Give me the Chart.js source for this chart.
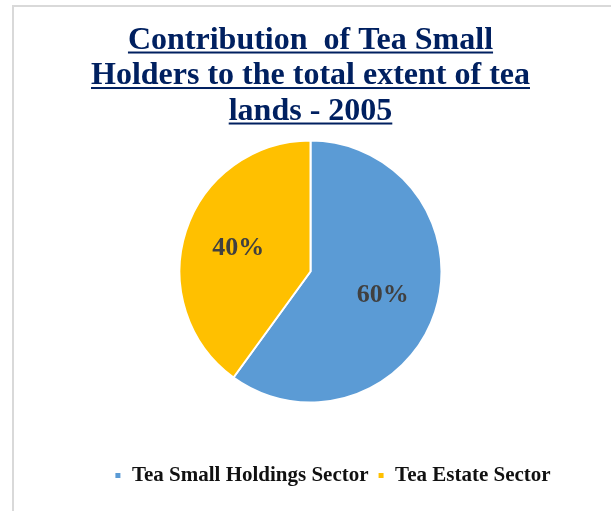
<!DOCTYPE html>
<html>
<head>
<meta charset="utf-8">
<title>Contribution of Tea Small Holders</title>
<script src="https://cdn.jsdelivr.net/npm/chart.js@4.4.1/dist/chart.umd.min.js"></script>
<style>
  html, body { margin: 0; padding: 0; background: #ffffff; }
  #teaChart { display: block; }
</style>
</head>
<body>
<canvas id="teaChart" width="611" height="511"></canvas>
<script>
// chart data
const titleLines = ['Contribution  of Tea Small', 'Holders to the total extent of tea', 'lands - 2005'];
const categories = ['Tea Small Holdings Sector', 'Tea Estate Sector'];
const shares = [60, 40];
const sliceColors = ['#5B9BD5', '#FFC000'];

const serif = "'Liberation Serif', 'Times New Roman', serif";
const titleFont = { family: serif, size: 32, weight: 'bold', lineHeight: 35.5 / 32 };
const titleColor = '#002060';

// white page + grey frame (top and left edges only)
const framePlugin = {
    id: 'frame',
    beforeDraw(chart) {
        const ctx = chart.ctx;
        ctx.save();
        ctx.fillStyle = '#ffffff';
        ctx.fillRect(0, 0, chart.width, chart.height);
        ctx.fillStyle = '#d9d9d9';
        ctx.fillRect(12, 5, chart.width - 12, 2);
        ctx.fillRect(12, 5, 2, chart.height - 5);
        ctx.restore();
    }
};

// the title plugin can't underline, so draw the lines under each row here
const underlinePlugin = {
    id: 'titleUnderline',
    afterDraw(chart) {
        const block = chart.titleBlock;
        if (!block) return;
        const ctx = chart.ctx;
        const font = Chart.helpers.toFont(titleFont);
        const padTop = block._padding.top;
        const cx = (block.left + block.right) / 2;
        ctx.save();
        ctx.font = font.string;
        ctx.textBaseline = 'middle';
        const toBase = ctx.measureText('H').actualBoundingBoxDescent;
        ctx.fillStyle = titleColor;
        titleLines.forEach((line, i) => {
            const mid = block.top + padTop + font.lineHeight / 2 + i * font.lineHeight;
            const w = ctx.measureText(line).width;
            ctx.fillRect(cx - w / 2, mid + toBase + 3, w, 2);
        });
        ctx.restore();
    }
};

// percentage labels inside each slice
const sliceLabelPlugin = {
    id: 'sliceLabels',
    afterDatasetsDraw(chart) {
        const ctx = chart.ctx;
        const meta = chart.getDatasetMeta(0);
        ctx.save();
        ctx.font = "bold 26px " + serif;
        ctx.fillStyle = '#404040';
        ctx.textAlign = 'center';
        ctx.textBaseline = 'middle';
        meta.data.forEach((arc, i) => {
            const p = arc.getProps(['x', 'y', 'startAngle', 'endAngle', 'outerRadius'], true);
            const mid = (p.startAngle + p.endAngle) / 2;
            const r = p.outerRadius * 0.58;
            ctx.fillText(shares[i] + '%', p.x + Math.cos(mid) * r, p.y + Math.sin(mid) * r);
        });
        ctx.restore();
    }
};

// nudge the legend a bit to the right like the original
const legendShiftPlugin = {
    id: 'legendShift',
    afterLayout(chart) {
        if (chart.legend) chart.legend.left += 44;
    }
};

const ctx = document.getElementById('teaChart').getContext('2d');
const teaChart = new Chart(ctx, {
    type: 'pie',
    data: {
        labels: categories,
        datasets: [{
            data: shares,
            backgroundColor: sliceColors,
            borderColor: '#ffffff',
            borderWidth: 2
        }]
    },
    options: {
        responsive: false,
        animation: false,
        radius: 131,
        layout: {
            padding: { left: 10, right: 0, top: 0, bottom: 15 }
        },
        plugins: {
            title: {
                display: true,
                text: titleLines,
                color: titleColor,
                font: titleFont,
                padding: { top: 22.5, bottom: -42 }
            },
            legend: {
                position: 'bottom',
                labels: {
                    boxWidth: 7,
                    boxHeight: 7,
                    padding: 9,
                    color: '#111111',
                    font: { family: serif, size: 21, weight: 'bold' }
                }
            },
            tooltip: { enabled: false }
        }
    },
    plugins: [framePlugin, underlinePlugin, sliceLabelPlugin, legendShiftPlugin]
});
</script>
</body>
</html>
